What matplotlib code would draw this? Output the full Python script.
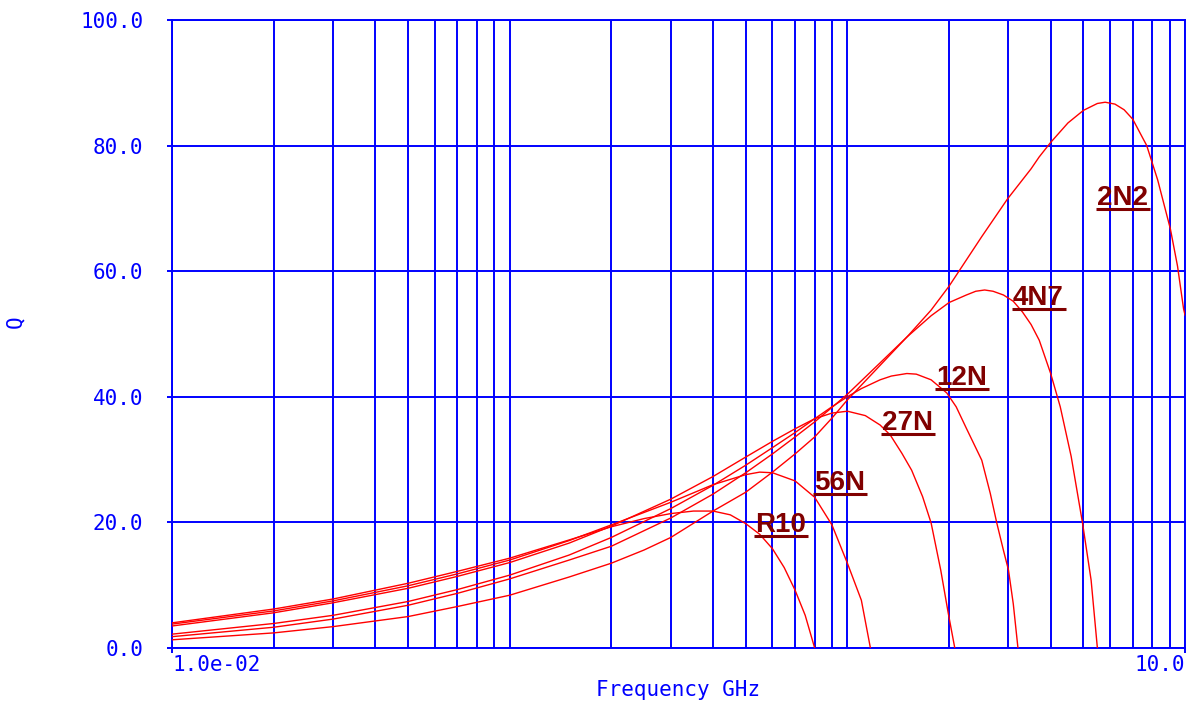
import numpy as np
import matplotlib.pyplot as plt
from matplotlib.ticker import LogLocator, NullFormatter

# Q factor of six chip inductors against frequency (GHz)
f_r10 = [0.01, 0.02, 0.03, 0.05, 0.07, 0.1, 0.15, 0.2, 0.25, 0.3, 0.35, 0.4,
         0.45, 0.5, 0.55, 0.6, 0.65, 0.7, 0.75, 0.8]
q_r10 = [4.0, 6.2, 7.8, 10.3, 12.2, 14.3, 17.2, 19.3, 20.6, 21.4, 21.8, 21.8,
         21.2, 19.8, 18.1, 15.8, 12.8, 9.2, 5.2, 0.0]

f_56n = [0.01, 0.02, 0.03, 0.05, 0.07, 0.1, 0.15, 0.2, 0.3, 0.4, 0.5, 0.55,
         0.6, 0.7, 0.8, 0.9, 1.0, 1.1, 1.17]
q_56n = [3.8, 5.9, 7.5, 9.9, 11.8, 14.0, 17.1, 19.6, 23.2, 26.0, 27.6, 28.0,
         27.9, 26.6, 24.0, 19.6, 13.5, 7.6, 0.0]

f_27n = [0.01, 0.02, 0.03, 0.05, 0.07, 0.1, 0.15, 0.2, 0.3, 0.4, 0.5, 0.6,
         0.7, 0.8, 0.9, 1.0, 1.13, 1.25, 1.34, 1.45, 1.55, 1.67, 1.77, 1.89,
         1.99, 2.08]
q_27n = [3.5, 5.6, 7.2, 9.5, 11.4, 13.6, 16.7, 19.4, 23.7, 27.3, 30.4, 32.9,
         34.9, 36.5, 37.4, 37.7, 37.0, 35.5, 33.9, 31.0, 28.3, 24.1, 19.9, 12.4,
         5.5, 0.0]

f_12n = [0.01, 0.02, 0.03, 0.05, 0.07, 0.1, 0.15, 0.2, 0.3, 0.4, 0.5, 0.6,
         0.7, 0.8, 0.9, 1.0, 1.1, 1.25, 1.35, 1.5, 1.6, 1.77, 1.97, 2.1, 2.25,
         2.5, 2.65, 2.77, 2.9, 3.0, 3.1, 3.2]
q_12n = [2.2, 3.9, 5.2, 7.4, 9.3, 11.6, 14.8, 17.6, 22.2, 25.9, 29.1, 31.9,
         34.3, 36.5, 38.4, 40.0, 41.3, 42.7, 43.3, 43.7, 43.6, 42.7, 40.6, 38.4,
         35.0, 29.9, 24.6, 19.9, 15.5, 12.4, 7.0, 0.0]

f_4n7 = [0.01, 0.02, 0.03, 0.05, 0.07, 0.1, 0.15, 0.2, 0.3, 0.4, 0.5, 0.6,
         0.7, 0.8, 0.9, 1.0, 1.25, 1.5, 1.77, 2.0, 2.25, 2.4, 2.55, 2.7, 2.9,
         3.1, 3.3, 3.5, 3.7, 4.0, 4.27, 4.6, 4.97, 5.27, 5.5]
q_4n7 = [1.8, 3.3, 4.6, 6.8, 8.7, 11.0, 14.0, 16.2, 20.7, 24.5, 27.9, 30.9,
         33.6, 36.0, 38.3, 40.4, 45.4, 49.5, 52.9, 55.0, 56.2, 56.8, 57.0, 56.8,
         56.2, 55.2, 53.5, 51.5, 49.0, 43.7, 38.4, 30.5, 19.9, 10.8, 0.0]

f_2n2 = [0.01, 0.02, 0.03, 0.05, 0.07, 0.1, 0.15, 0.2, 0.25, 0.3, 0.4, 0.5,
         0.6, 0.7, 0.8, 0.9, 1.0, 1.25, 1.5, 1.77, 2.0, 2.5, 2.98, 3.5, 3.7,
         4.0, 4.5, 5.0, 5.5, 5.8, 6.2, 6.6, 7.0, 7.7, 8.3, 9.05, 9.5, 9.9, 10.0]
q_2n2 = [1.3, 2.4, 3.4, 5.0, 6.6, 8.4, 11.3, 13.5, 15.6, 17.6, 21.8, 24.8,
         28.0, 30.9, 33.6, 36.6, 39.5, 45.0, 49.5, 53.8, 57.6, 65.5, 71.5, 76.3,
         78.2, 80.5, 83.6, 85.6, 86.7, 86.9, 86.6, 85.7, 84.2, 80.0, 74.5, 66.7,
         60.8, 54.0, 53.0]

names = ['R10', '56N', '27N', '12N', '4N7', '2N2']
freqs = [f_r10, f_56n, f_27n, f_12n, f_4n7, f_2n2]
qs = [q_r10, q_56n, q_27n, q_12n, q_4n7, q_2n2]

# where each part name sits (left edge, baseline)
label_xy = [(0.532, 18.5), (0.796, 25.2), (1.27, 34.7),
            (1.83, 41.9), (3.09, 54.6), (5.48, 70.5)]

y_ticks = [0, 20, 40, 60, 80, 100]
y_tick_labels = ['0.0', '20.0', '40.0', '60.0', '80.0', '100.0']
x_ticks = [0.01, 10]
x_tick_labels = ['1.0e-02', '10.0']

BLUE = '#0000ff'
plt.rcParams['font.family'] = ['DejaVu Sans Mono']

fig = plt.figure(figsize=(11.94, 7.05), dpi=100)
ax = fig.add_axes([0.1441, 0.0809, 0.8484, 0.8908])

ax.set_xscale('log')
ax.set_xlim(0.01, 10)
ax.set_ylim(0, 100)

for f, q in zip(freqs, qs):
    ax.plot(f, q, color='#ff0000', lw=1.0, zorder=3)

# grid: every 1..9 line per decade, Q every 20
ax.xaxis.set_minor_locator(LogLocator(base=10, subs=np.arange(1, 10), numticks=50))
ax.xaxis.set_minor_formatter(NullFormatter())
ax.set_xticks(x_ticks, x_tick_labels)
ax.set_yticks(y_ticks, y_tick_labels)
ax.grid(which='both', axis='x', color=BLUE, lw=1.4)
ax.grid(which='major', axis='y', color=BLUE, lw=1.4)
ax.set_axisbelow(True)

for sp in ax.spines.values():
    sp.set_color(BLUE)
    sp.set_linewidth(1.4)

ax.tick_params(which='major', direction='out', length=3.6, width=1.4,
               color=BLUE, labelcolor=BLUE, labelsize=15)
ax.tick_params(axis='y', pad=17)
ax.tick_params(axis='x', pad=1.5)
ax.tick_params(which='minor', length=0)
xl = ax.get_xticklabels()
xl[0].set_ha('left')
xl[1].set_ha('right')

ax.set_xlabel('Frequency GHz', color=BLUE, fontsize=15)
ax.xaxis.set_label_coords(0.5, -0.067)
ax.xaxis.label.set_va('center')
ax.set_ylabel('Q', color=BLUE, fontsize=15)
ax.yaxis.set_label_coords(-0.155, 0.52)
ax.yaxis.label.set_va('center')

texts = []
for name, (x, y) in zip(names, label_xy):
    t = ax.text(x, y, name, ha='left', va='baseline', color='#800000',
                fontsize=20, fontweight='bold', family='Liberation Sans', zorder=5)
    texts.append(t)

# underline each part name
fig.canvas.draw()
r = fig.canvas.get_renderer()
inv = ax.transData.inverted()
for t, (x, y) in zip(texts, label_xy):
    bb = t.get_window_extent(r)
    bx, by = ax.transData.transform((x, y))
    ly = by - 4
    p0 = inv.transform((bb.x0 - 1, ly))
    p1 = inv.transform((bb.x1 + 2, ly))
    ax.plot([p0[0], p1[0]], [p0[1], p1[1]], color='#800000', lw=2.2,
            solid_capstyle='butt', zorder=5)

fig.savefig('out.png', dpi=100)
